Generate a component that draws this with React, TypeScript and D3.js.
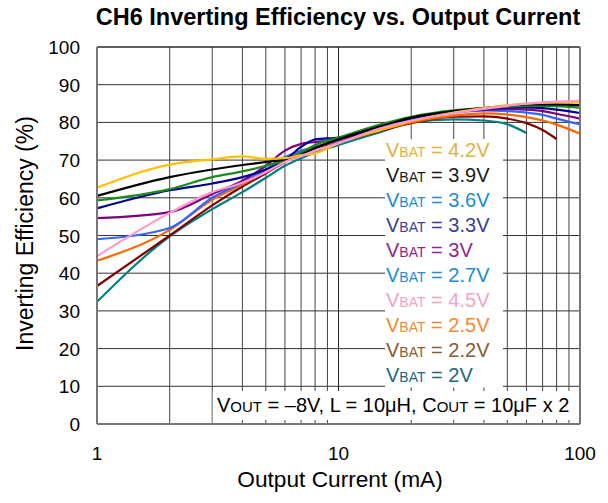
import * as d3 from "d3";

// x values (mA) the curves were read at
const currents = [1, 2, 3, 4, 5, 6, 7, 8, 10, 15, 20, 30, 40, 50, 60, 70, 80, 100];

// efficiency (%) per VBAT
const eff42 = [62.7, 68.8, 70.2, 71.0, 70.3, 70.5, 71.3, 71.8, 74.5, 78.0, 80.3, 82.6, 83.8, 84.6, 85.0, 85.2, 85.3, 85.3];
const eff39 = [60.5, 65.5, 67.5, 68.7, 69.5, 70.2, 71.5, 73.2, 75.5, 79.0, 81.3, 83.0, 83.8, 84.4, 84.8, 84.8, 84.8, 84.6];
const eff36 = [59.3, 62.3, 65.5, 67.0, 68.5, 70.0, 72.0, 74.0, 76.0, 79.5, 81.5, 83.2, 83.8, 84.2, 84.4, 84.4, 84.3, 83.9];
const eff33 = [57.2, 62.0, 63.8, 65.5, 67.5, 70.0, 73.5, 75.5, 76.0, 78.8, 81.0, 82.8, 83.5, 84.0, 84.0, 83.8, 83.4, 82.5];
const eff30 = [54.6, 56.2, 61.0, 64.5, 68.5, 72.5, 74.3, 74.8, 75.5, 78.8, 80.8, 82.8, 83.3, 83.6, 83.4, 83.0, 82.3, 81.0];
const eff27 = [49.0, 52.0, 60.0, 64.0, 67.5, 70.8, 72.5, 73.5, 75.2, 78.5, 80.5, 82.5, 83.2, 83.0, 82.6, 82.0, 81.0, 79.5];
const eff45 = [44.5, 56.0, 61.5, 64.0, 66.8, 69.5, 71.0, 72.5, 74.5, 78.5, 80.5, 82.5, 83.6, 84.4, 85.0, 85.3, 85.5, 85.7];
const eff25 = [43.3, 51.5, 59.5, 63.5, 67.0, 70.0, 72.0, 73.5, 75.0, 78.0, 80.0, 81.8, 82.4, 82.1, 81.4, 80.5, 79.4, 77.0];
const eff22 = [36.6, 50.0, 58.0, 63.0, 66.5, 69.5, 71.8, 73.2, 74.8, 77.8, 79.8, 81.5, 81.6, 81.0, 79.8, 78.0, 75.6];
const eff20 = [32.4, 49.8, 57.0, 61.5, 65.3, 68.5, 70.5, 72.0, 74.0, 77.5, 80.0, 80.8, 80.5, 79.5, 77.2];

const labels = ["4.2V", "3.9V", "3.6V", "3.3V", "3V", "2.7V", "4.5V", "2.5V", "2.2V", "2V"];
const lineColors = ["#FFC000", "#000000", "#1A8A1A", "#000099", "#800080", "#3366FF", "#FF99CC", "#FF6600", "#800000", "#008080"];
const textColors = ["#E3B23C", "#1A1A1A", "#1E8CD2", "#3C3C96", "#8C288C", "#1E8CD2", "#F4A3C4", "#F08A32", "#8A5A32", "#1A6A80"];
const effs = [eff42, eff39, eff36, eff33, eff30, eff27, eff45, eff25, eff22, eff20];
// drawing order, last on top
const drawOrder = [9, 8, 7, 5, 4, 3, 2, 1, 0, 6];

const yTicks = [0, 10, 20, 30, 40, 50, 60, 70, 80, 90, 100];
const xTicks = [1, 10, 100];

const font = "'Liberation Sans', Arial, sans-serif";

export default function App() {
  const width = 608;
  const height = 503;
  const x = d3.scaleLog().domain([1, 100]).range([97, 580]);
  const y = d3.scaleLinear().domain([0, 100]).range([424, 47]);

  const minorX = d3.range(1, 3).flatMap((dec) => d3.range(2, 10).map((m) => m * Math.pow(10, dec - 1)));

  const line = d3
    .line<[number, number]>()
    .x((d) => x(d[0]))
    .y((d) => y(d[1]))
    .curve(d3.curveMonotoneX);

  const legendX = 386;
  const legendY0 = 156.5;
  const legendStep = 25;

  return (
    <svg width={width} height={height} style={{ position: "absolute", left: 0, top: 0, background: "#fff" }} fontFamily={font}>
      <text x={338} y={25} textAnchor="middle" fontSize={23.5} fontWeight="bold">
        CH6 Inverting Efficiency vs. Output Current
      </text>

      {/* grid */}
      {yTicks.map((t) => (
        <line key={"h" + t} x1={x(1)} x2={x(100)} y1={y(t)} y2={y(t)} stroke="#333" strokeWidth={1} />
      ))}
      {minorX.map((t) => (
        <line key={"v" + t} x1={x(t)} x2={x(t)} y1={y(0)} y2={y(100)} stroke="#444" strokeWidth={1} />
      ))}
      {xTicks.map((t) => (
        <line key={"V" + t} x1={x(t)} x2={x(t)} y1={y(0)} y2={y(100)} stroke="#222" strokeWidth={1} />
      ))}

      {/* legend and note backgrounds */}
      <rect x={385} y={139} width={118} height={248.5} fill="#fff" />
      <rect x={x(3) + 0.5} y={391} width={x(100) - x(3) - 1.5} height={32} fill="#fff" />
      {minorX.filter((t) => t > 3).map((t) => (
        <line key={"mt" + t} x1={x(t)} x2={x(t)} y1={y(0)} y2={y(0) - 4} stroke="#444" />
      ))}

      {/* curves */}
      {drawOrder.map((i) => (
        <path
          key={labels[i]}
          d={line(effs[i].map((v, k) => [currents[k], v] as [number, number])) || ""}
          fill="none"
          stroke={lineColors[i]}
          strokeWidth={2.2}
        />
      ))}

      {/* frame */}
      <line x1={x(1)} x2={x(100)} y1={y(100)} y2={y(100)} stroke="#222" />
      <line x1={x(1)} x2={x(1)} y1={y(0)} y2={y(100)} stroke="#777" strokeWidth={2} />
      <line x1={x(100)} x2={x(100)} y1={y(0)} y2={y(100)} stroke="#777" strokeWidth={2} />
      <line x1={x(1)} x2={x(100)} y1={y(0)} y2={y(0)} stroke="#777" strokeWidth={2} />

      {/* tick labels */}
      {yTicks.map((t) => (
        <text key={"yl" + t} x={80} y={y(t) + 7} textAnchor="end" fontSize={19}>
          {t}
        </text>
      ))}
      {xTicks.map((t) => (
        <text key={"xl" + t} x={x(t)} y={460} textAnchor="middle" fontSize={19}>
          {t}
        </text>
      ))}

      <text x={340} y={487} textAnchor="middle" fontSize={22.7}>
        Output Current (mA)
      </text>
      <text transform="translate(33,233.5) rotate(-90)" textAnchor="middle" fontSize={23}>
        Inverting Efficiency (%)
      </text>

      {/* legend */}
      {labels.map((lab, i) => (
        <text key={"lg" + lab} x={legendX} y={legendY0 + i * legendStep} fontSize={20} fill={textColors[i]}>
          <tspan>V</tspan>
          <tspan fontSize={14}>BAT</tspan>
          <tspan>{" = " + lab}</tspan>
        </text>
      ))}

      <text x={217} y={411.5} fontSize={20}>
        <tspan>V</tspan>
        <tspan fontSize={15}>OUT</tspan>
        <tspan>{" = \u20138V, L = 10\u03bcH, C"}</tspan>
        <tspan fontSize={15}>OUT</tspan>
        <tspan>{" = 10\u03bcF x 2"}</tspan>
      </text>
    </svg>
  );
}
